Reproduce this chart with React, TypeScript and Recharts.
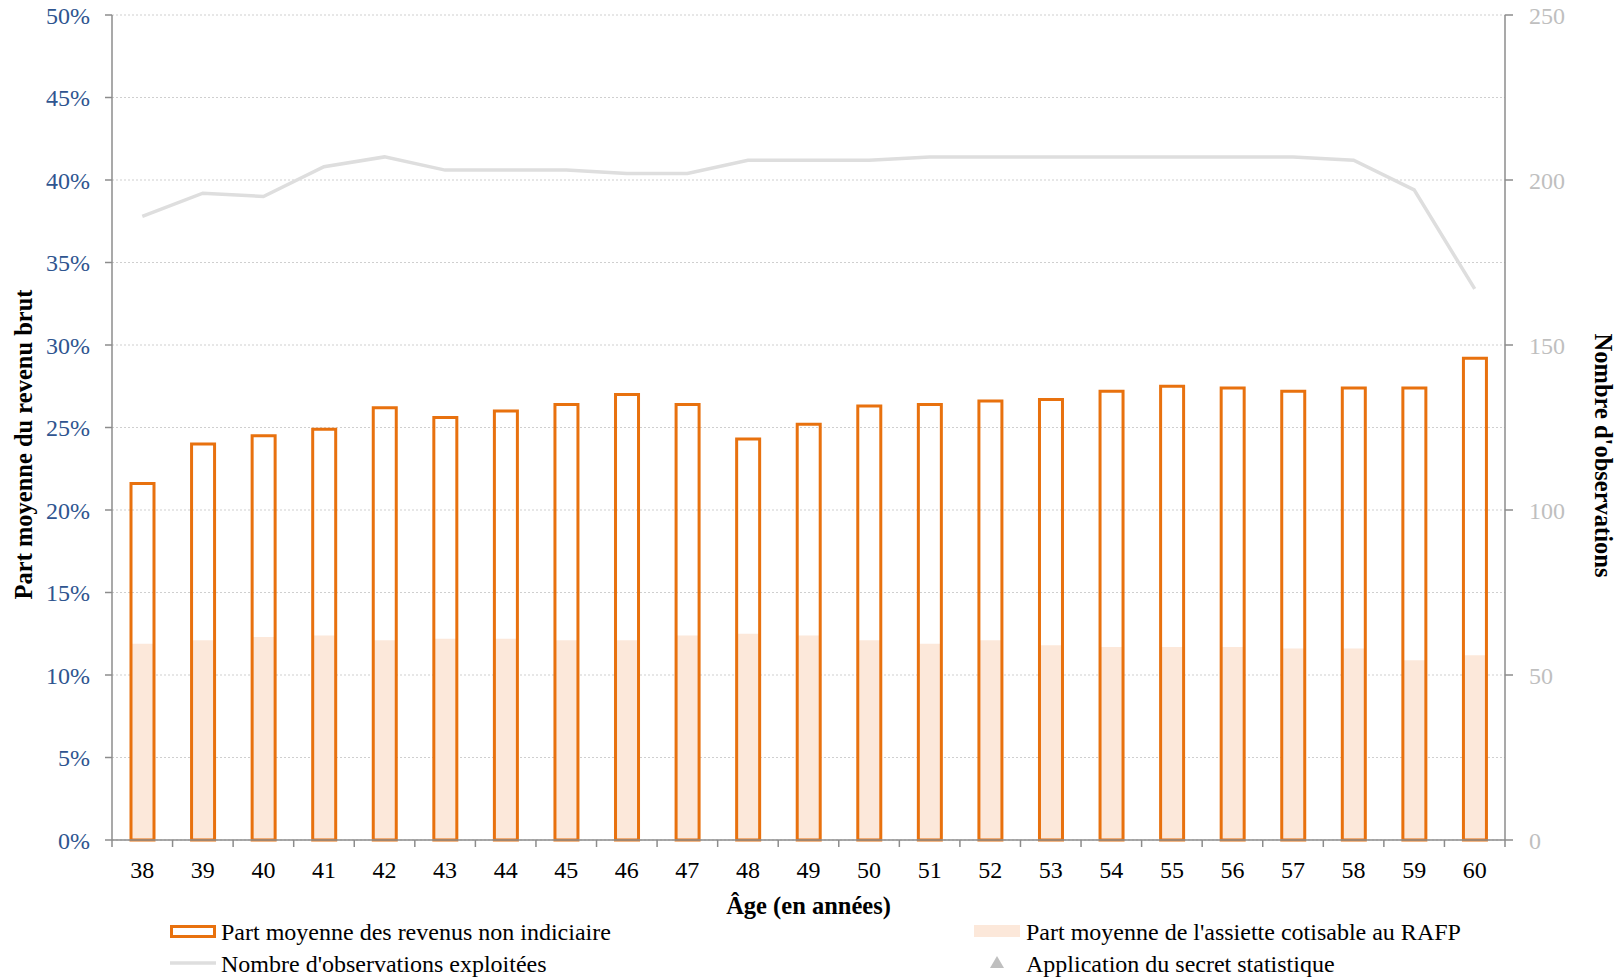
import React from "react";
import {
  ComposedChart,
  Bar,
  Line,
  XAxis,
  YAxis,
  CartesianGrid,
  Legend,
} from "recharts";

// ---- data ----
const ages = ["38", "39", "40", "41", "42", "43", "44", "45", "46", "47", "48", "49", "50", "51", "52", "53", "54", "55", "56", "57", "58", "59", "60"];
const partNonIndiciaire = [21.6, 24.0, 24.5, 24.9, 26.2, 25.6, 26.0, 26.4, 27.0, 26.4, 24.3, 25.2, 26.3, 26.4, 26.6, 26.7, 27.2, 27.5, 27.4, 27.2, 27.4, 27.4, 29.2];
const partRafp = [11.9, 12.1, 12.3, 12.4, 12.1, 12.2, 12.2, 12.1, 12.1, 12.4, 12.5, 12.4, 12.1, 11.9, 12.1, 11.8, 11.7, 11.7, 11.7, 11.6, 11.6, 10.9, 11.2];
const nbObservations = [189, 196, 195, 204, 207, 203, 203, 203, 202, 202, 206, 206, 206, 207, 207, 207, 207, 207, 207, 207, 206, 197, 167];
const leftTicks = [0, 5, 10, 15, 20, 25, 30, 35, 40, 45, 50];
const rightTicks = [0, 50, 100, 150, 200, 250];

const seriesNames = {
  nonIndiciaire: "Part moyenne des revenus non indiciaire",
  rafp: "Part moyenne de l'assiette cotisable au RAFP",
  obs: "Nombre d'observations exploitées",
  secret: "Application du secret statistique",
};
const xTitle = "Âge (en années)";
const leftTitle = "Part moyenne du revenu brut";
const rightTitle = "Nombre d'observations";

const data = ages.map((age, i) => ({
  age,
  nonIndiciaire: partNonIndiciaire[i],
  rafp: partRafp[i],
  obs: nbObservations[i],
}));

// ---- layout / style ----
const W = 1623;
const H = 980;
const FONT = "'Liberation Serif', 'DejaVu Serif', serif";
const FS = 24;
const TFS = 24.5;
const ORANGE = "#E8710E";
const PEACH = "#FCE8DA";
const LINE_GREY = "#DEDEDE";
const AXIS_GREY = "#8C8C8C";
const LEFT_W = 112;
const RIGHT_W = 118;
const BAND = (W - LEFT_W - RIGHT_W) / ages.length;
const BAR = 23;

const XTick = (props: any) => {
  const { x, y, payload, index } = props;
  const half = BAND / 2;
  return (
    <g>
      <line x1={x - half} x2={x - half} y1={y} y2={y + 7} stroke={AXIS_GREY} strokeWidth={1.5} />
      {index === ages.length - 1 && (
        <line x1={x + half} x2={x + half} y1={y} y2={y + 7} stroke={AXIS_GREY} strokeWidth={1.5} />
      )}
      <text x={x} y={y + 30} textAnchor="middle" dominantBaseline="central" fill="#000" fontSize={FS} fontFamily={FONT}>
        {payload.value}
      </text>
    </g>
  );
};

const renderLegend = () => (
  <div style={{ position: "relative", width: W, height: 80, fontFamily: FONT, fontSize: FS, color: "#000" }}>
    <svg style={{ position: "absolute", left: 170, top: 25 }} width={46} height={13}>
      <rect x={1.5} y={1.5} width={43} height={10} fill="#fff" stroke={ORANGE} strokeWidth={3} />
    </svg>
    <div style={{ position: "absolute", left: 221, top: 19, lineHeight: "26px", whiteSpace: "nowrap" }}>{seriesNames.nonIndiciaire}</div>
    <svg style={{ position: "absolute", left: 974, top: 25 }} width={46} height={13}>
      <rect x={0} y={0} width={46} height={12} fill={PEACH} />
    </svg>
    <div style={{ position: "absolute", left: 1026, top: 19, lineHeight: "26px", whiteSpace: "nowrap" }}>{seriesNames.rafp}</div>
    <svg style={{ position: "absolute", left: 170, top: 58 }} width={46} height={10}>
      <line x1={0} x2={46} y1={5} y2={5} stroke={LINE_GREY} strokeWidth={3.5} />
    </svg>
    <div style={{ position: "absolute", left: 221, top: 51, lineHeight: "26px", whiteSpace: "nowrap" }}>{seriesNames.obs}</div>
    <svg style={{ position: "absolute", left: 989, top: 56 }} width={16} height={13}>
      <polygon points="8,0 15,12 1,12" fill="#BFBFBF" />
    </svg>
    <div style={{ position: "absolute", left: 1026, top: 51, lineHeight: "26px", whiteSpace: "nowrap" }}>{seriesNames.secret}</div>
  </div>
);

export default function App() {
  return (
    <div style={{ position: "absolute", left: 0, top: 0, width: W, height: H, background: "#fff", fontFamily: FONT }}>
      <ComposedChart
        width={W}
        height={H}
        data={data}
        margin={{ top: 15, right: 0, bottom: 0, left: 0 }}
        barGap={-BAR}
        style={{ fontFamily: FONT }}
      >
        <CartesianGrid yAxisId="left" vertical={false} stroke="#CFCFCF" strokeDasharray="2 2" />
        <XAxis
          dataKey="age"
          height={60}
          interval={0}
          tickLine={false}
          tickSize={0}
          tickMargin={0}
          axisLine={{ stroke: AXIS_GREY, strokeWidth: 1.5 }}
          tick={<XTick />}
          label={{
            content: (p: any) => {
              const vb = p.viewBox || { x: LEFT_W, y: 840, width: 1393 };
              return (
                <text x={vb.x + vb.width / 2} y={vb.y + 65} textAnchor="middle" dominantBaseline="central" fontWeight="bold" fontSize={TFS} fontFamily={FONT} fill="#000">
                  {xTitle}
                </text>
              );
            },
          }}
        />
        <YAxis
          yAxisId="left"
          width={LEFT_W}
          domain={[0, 50]}
          ticks={leftTicks}
          tickFormatter={(v: number) => `${v}%`}
          tickSize={7}
          tickMargin={15}
          tickLine={{ stroke: AXIS_GREY, strokeWidth: 1.5 }}
          axisLine={{ stroke: AXIS_GREY, strokeWidth: 1.5 }}
          tick={{ fill: "#2F5590", fontSize: FS, fontFamily: FONT }}
          label={{
            content: (p: any) => {
              const vb = p.viewBox || { y: 15, height: 825 };
              const cy = vb.y + vb.height / 2 + 17;
              return (
                <text x={23} y={cy} transform={`rotate(-90, 23, ${cy})`} textAnchor="middle" dominantBaseline="central" fontWeight="bold" fontSize={TFS} fontFamily={FONT} fill="#000">
                  {leftTitle}
                </text>
              );
            },
          }}
        />
        <YAxis
          yAxisId="right"
          orientation="right"
          width={RIGHT_W}
          domain={[0, 250]}
          ticks={rightTicks}
          tickSize={8}
          tickMargin={16}
          tickLine={{ stroke: AXIS_GREY, strokeWidth: 1.5 }}
          axisLine={{ stroke: AXIS_GREY, strokeWidth: 1.5 }}
          tick={{ fill: "#BFBFBF", fontSize: FS, fontFamily: FONT, textAnchor: "start" }}
          label={{
            content: (p: any) => {
              const vb = p.viewBox || { y: 15, height: 825 };
              const cy = vb.y + vb.height / 2 + 28;
              return (
                <text x={1603} y={cy} transform={`rotate(90, 1603, ${cy})`} textAnchor="middle" dominantBaseline="central" fontWeight="bold" fontSize={TFS} fontFamily={FONT} fill="#000">
                  {rightTitle}
                </text>
              );
            },
          }}
        />
        <Bar
          yAxisId="left"
          dataKey="rafp"
          name={seriesNames.rafp}
          fill={PEACH}
          barSize={BAR}
          isAnimationActive={false}
        />
        <Bar
          yAxisId="left"
          dataKey="nonIndiciaire"
          name={seriesNames.nonIndiciaire}
          fill="none"
          fillOpacity={0}
          stroke={ORANGE}
          strokeWidth={3}
          barSize={BAR}
          isAnimationActive={false}
        />
        <Line
          yAxisId="right"
          dataKey="obs"
          name={seriesNames.obs}
          stroke={LINE_GREY}
          strokeWidth={3.5}
          dot={false}
          activeDot={false}
          isAnimationActive={false}
        />
        <Legend
          verticalAlign="bottom"
          content={renderLegend}
          wrapperStyle={{ left: 0, width: W, height: 80, bottom: 0 }}
        />
      </ComposedChart>
    </div>
  );
}
